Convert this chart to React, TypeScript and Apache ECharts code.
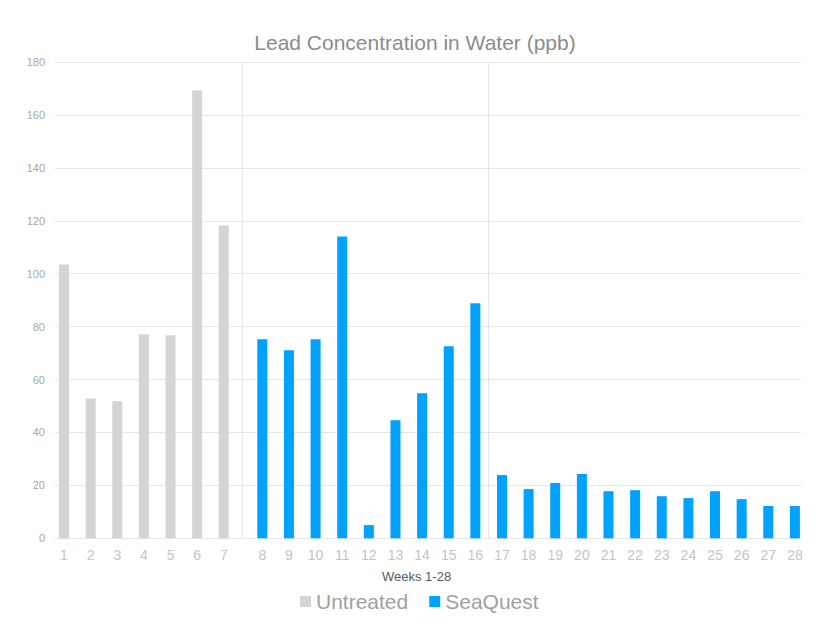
import React, { useEffect, useRef } from "react";
import * as echarts from "echarts";

const weeksUntreated = ["1", "2", "3", "4", "5", "6", "7"];
const untreatedValues = [103.5, 52.8, 51.8, 77.1, 76.7, 169.2, 118.2];
const weeksSeaQuest = [
  "8", "9", "10", "11", "12", "13", "14", "15", "16", "17", "18", "19", "20", "21",
  "22", "23", "24", "25", "26", "27", "28",
];
const seaQuestValues = [
  75.2, 71.1, 75.2, 114.1, 5.0, 44.6, 54.8, 72.6, 88.8, 23.9, 18.6, 20.9, 24.3, 17.8,
  18.2, 15.9, 15.2, 17.8, 14.8, 12.2, 12.2,
];
const yMin = 0;
const yMax = 180;
const yInterval = 20;

const FONT = "'Liberation Sans', Arial, sans-serif";
const GRID_LINE = "#e6e6e6";

export default function App() {
  const ref = useRef<HTMLDivElement>(null);
  useEffect(() => {
    if (!ref.current) return;
    const chart = echarts.init(ref.current, undefined, { renderer: "svg" });
    const top = 62;
    const bottom = 633 - 538.3;
    const band = 26.63;
    const gridALeft = 50.7;
    const gridBLeft = 249.0;
    // weeks 17..28 after the second separator
    const weeksAfterSecondSeparator = 12;
    chart.setOption({
      animation: false,
      backgroundColor: "#ffffff",
      textStyle: { fontFamily: FONT },
      title: [
        {
          text: "Lead Concentration in Water (ppb)",
          left: "center",
          top: 27,
          textStyle: { fontSize: 21, fontWeight: "normal", color: "#8c8c8c", fontFamily: FONT },
        },
        {
          text: "Weeks 1-28",
          left: 377,
          top: 565,
          textStyle: { fontSize: 13, fontWeight: "normal", color: "#595959", fontFamily: FONT },
        },
      ],
      legend: {
        data: ["Untreated", "SeaQuest"],
        left: 295,
        top: 586,
        icon: "rect",
        itemWidth: 11,
        itemHeight: 11,
        itemGap: 21,
        textStyle: { fontSize: 21, color: "#a0a0a0", fontFamily: FONT },
      },
      grid: [
        { left: 55, right: 830 - 801, top, bottom },
        { left: gridALeft, width: band * weeksUntreated.length, top, bottom },
        { left: gridBLeft, width: band * weeksSeaQuest.length, top, bottom },
      ],
      xAxis: [
        { gridIndex: 0, type: "value", show: false, min: 0, max: 1 },
        {
          gridIndex: 1,
          type: "category",
          data: weeksUntreated,
          axisLine: { show: false },
          axisTick: { show: false },
          axisLabel: { color: "#c4c4c4", fontSize: 14, margin: 10, fontFamily: FONT },
          splitLine: { show: false },
        },
        {
          gridIndex: 2,
          type: "category",
          data: weeksSeaQuest,
          axisLine: { show: false },
          axisTick: { show: false },
          axisLabel: { color: "#c4c4c4", fontSize: 14, margin: 10, fontFamily: FONT },
          splitLine: { show: false },
        },
      ],
      yAxis: [
        {
          gridIndex: 0,
          type: "value",
          min: yMin,
          max: yMax,
          interval: yInterval,
          axisLine: { show: false },
          axisTick: { show: false },
          axisLabel: { color: "#a6a6a6", fontSize: 11, margin: 10, fontFamily: FONT },
          splitLine: { show: true, lineStyle: { color: GRID_LINE, width: 1 } },
        },
        {
          gridIndex: 1,
          type: "value",
          min: yMin,
          max: yMax,
          interval: yInterval,
          show: false,
        },
        {
          gridIndex: 2,
          type: "value",
          min: yMin,
          max: yMax,
          interval: yInterval,
          position: "left",
          offset: gridBLeft - 242,
          axisLine: { show: true, lineStyle: { color: GRID_LINE, width: 1 } },
          axisTick: { show: false },
          axisLabel: { show: false },
          splitLine: { show: false },
        },
        {
          gridIndex: 2,
          type: "value",
          min: yMin,
          max: yMax,
          interval: yInterval,
          position: "right",
          offset: -band * weeksAfterSecondSeparator,
          axisLine: { show: true, lineStyle: { color: GRID_LINE, width: 1 } },
          axisTick: { show: false },
          axisLabel: { show: false },
          splitLine: { show: false },
        },
      ],
      series: [
        {
          name: "Untreated",
          type: "bar",
          xAxisIndex: 1,
          yAxisIndex: 1,
          data: untreatedValues,
          barWidth: 10,
          itemStyle: { color: "#d4d4d4" },
        },
        {
          name: "SeaQuest",
          type: "bar",
          xAxisIndex: 2,
          yAxisIndex: 2,
          data: seaQuestValues,
          barWidth: 10,
          itemStyle: { color: "#00a2ff" },
        },
      ],
    });
    return () => chart.dispose();
  }, []);
  return (
    <div
      ref={ref}
      style={{ position: "absolute", left: 0, top: 0, width: 830, height: 633 }}
    />
  );
}
